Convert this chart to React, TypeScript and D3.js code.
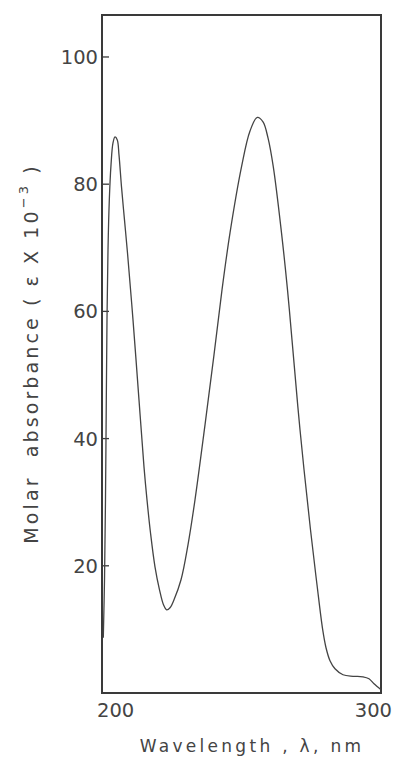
import React from "react";
import * as d3 from "d3";

const wavelengths = [200.47, 200.9, 201.25, 201.54, 201.79, 202.15, 202.62, 203.23, 203.94, 204.66, 205.48, 206.09, 206.99, 208.06, 209.14, 211.11, 213.26, 215.05, 216.13, 217.38, 218.99, 220.61, 222.04, 223.19, 224.37, 225.81, 228.32, 230.82, 233.33, 236.92, 240.14, 243.01, 245.88, 250.0, 253.05, 255.66, 257.71, 259.5, 261.4, 264.34, 266.49, 268.1, 270.97, 274.73, 277.06, 279.1, 280.29, 281.72, 283.51, 286.38, 289.96, 293.55, 295.7, 297.49, 300.0];
const absorbance = [8.69, 17.8, 30.37, 46.09, 58.66, 69.67, 77.52, 83.03, 86.48, 87.43, 86.96, 84.6, 79.57, 74.38, 69.19, 58.66, 46.09, 35.56, 30.37, 25.19, 19.84, 16.23, 13.87, 13.08, 13.4, 14.66, 17.8, 23.3, 30.37, 42.16, 53.16, 63.38, 72.34, 82.71, 88.37, 90.49, 89.79, 87.27, 82.71, 72.34, 63.38, 55.52, 41.38, 25.66, 17.02, 9.95, 7.11, 5.07, 3.81, 2.87, 2.63, 2.55, 2.24, 1.45, 0.51];
const yTicks = [20, 40, 60, 80, 100];
const xTickLabels = ["200", "300"];
const xTitle = "Wavelength , λ, nm";
const yTitleMain = "Molar  absorbance ( ε X 10";
const yTitleSup = "−3";
const yTitleEnd = " )";

export default function App() {
  const W = 394, H = 768;
  const left = 102, right = 381, top = 15, bottom = 693;
  const x = d3.scaleLinear().domain([200, 300]).range([left, right]);
  const y = d3.scaleLinear().domain([0, 106.6]).range([bottom, top]);
  const pts = wavelengths.map((w, i) => [w, absorbance[i]] as [number, number]);
  const line = d3
    .line<[number, number]>()
    .x((d) => x(d[0]))
    .y((d) => y(d[1]))
    .curve(d3.curveCatmullRom.alpha(0.5));
  const ink = "#3a3a3a";
  const font = "'DejaVu Sans', sans-serif";
  const yMid = (545 + 162) / 2;
  return (
    <svg
      width={W}
      height={H}
      style={{ position: "absolute", left: 0, top: 0, background: "#fff" }}
    >
      <rect x={left} y={top} width={right - left} height={bottom - top} fill="none" stroke={ink} strokeWidth={2} />
      {yTicks.map((t) => (
        <g key={t}>
          <line x1={left} x2={left + 7} y1={y(t)} y2={y(t)} stroke={ink} strokeWidth={1.3} />
          <text
            x={left - 4}
            y={y(t)}
            dy="0.36em"
            textAnchor="end"
            fontFamily={font}
            fontSize={19.5}
            fill="#444"
          >
            {t}
          </text>
        </g>
      ))}
      <text x={x(200) - 5} y={717} textAnchor="start" fontFamily={font} fontSize={19.5} fill="#444">
        {xTickLabels[0]}
      </text>
      <text x={x(300) + 11} y={717} textAnchor="end" fontFamily={font} fontSize={19.5} fill="#444">
        {xTickLabels[1]}
      </text>
      <text x={252} y={752} textAnchor="middle" fontFamily={font} fontSize={17} letterSpacing={3.3} fill="#444">
        {xTitle}
      </text>
      <text
        transform={`translate(38, ${yMid}) rotate(-90)`}
        textAnchor="middle"
        fontFamily={font}
        fontSize={19}
        letterSpacing={3.1}
        fill="#444"
        style={{ whiteSpace: "pre" }}
      >
        {yTitleMain}
        <tspan dy={-10} fontSize={13}>{yTitleSup}</tspan>
        <tspan dy={10}>{yTitleEnd}</tspan>
      </text>
      <path d={line(pts) || ""} fill="none" stroke="#444" strokeWidth={1.3} />
    </svg>
  );
}
